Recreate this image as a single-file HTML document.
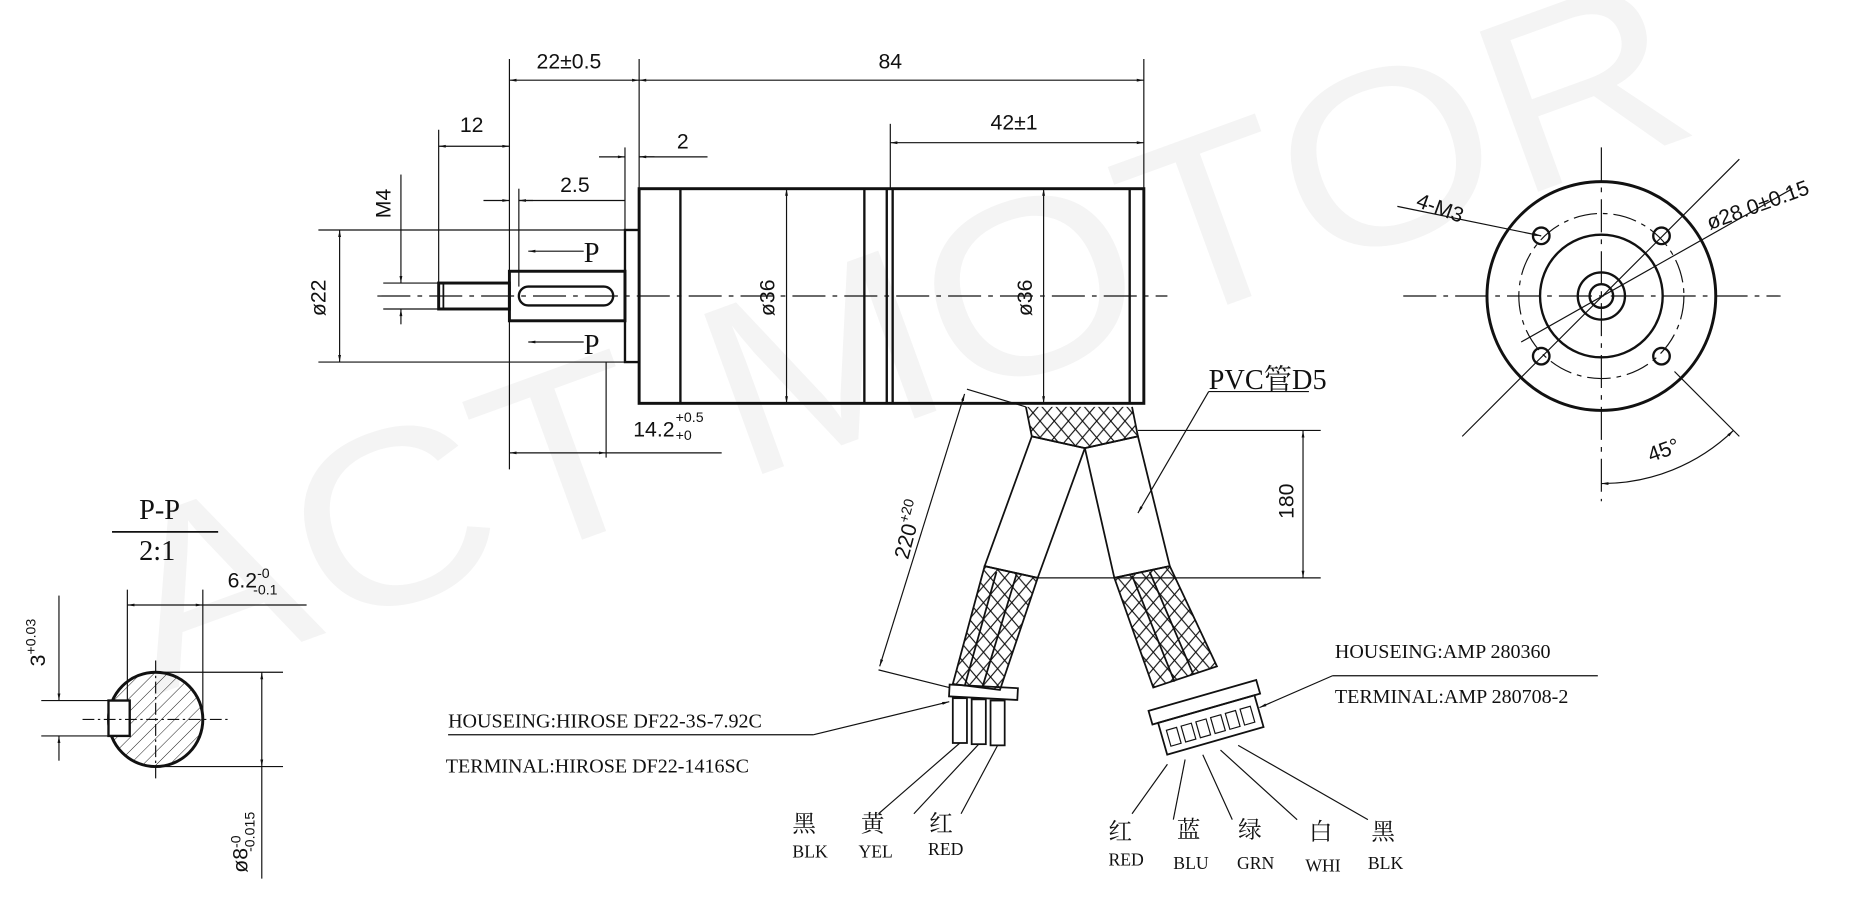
<!DOCTYPE html>
<html><head><meta charset="utf-8"><style>
html,body{margin:0;padding:0;background:#fff;overflow:hidden}
svg{display:block}
text{font-family:"Liberation Sans","Noto Sans CJK SC",sans-serif;fill:#111}
.s{font-family:"Liberation Serif","Noto Serif CJK SC",serif}
</style></head><body>
<svg width="1849" height="914" viewBox="0 0 1568 775" preserveAspectRatio="none" xmlns="http://www.w3.org/2000/svg">
<defs>
<marker id="a" viewBox="0 0 10 10" refX="10" refY="5" markerWidth="10" markerHeight="6" orient="auto-start-reverse"><path d="M0,3 L10,5 L0,7 z" fill="#111"/></marker>
<pattern id="h" width="8" height="8" patternUnits="userSpaceOnUse" patternTransform="rotate(45)"><line x1="0" y1="0" x2="0" y2="8" stroke="#111" stroke-width="0.8"/></pattern>
<pattern id="x" width="12" height="14" patternUnits="userSpaceOnUse"><path d="M0,0 L12,14 M12,0 L0,14" stroke="#111" stroke-width="1"/></pattern>
</defs>
<text x="130" y="590" transform="rotate(-20 130 590)" font-size="210" textLength="1400" lengthAdjust="spacingAndGlyphs" style="fill:#f4f4f4">ACT MOTOR</text>

<g stroke="#111" fill="none">
<line x1="320" y1="251" x2="990" y2="251" stroke-dasharray="28 6 4 6" stroke-width="1"/>
<rect x="542" y="160" width="428" height="182" stroke-width="2.5"/>
<line x1="577" y1="160" x2="577" y2="342" stroke-width="2"/>
<line x1="733" y1="160" x2="733" y2="342" stroke-width="2"/>
<line x1="752" y1="160" x2="752" y2="342" stroke-width="2"/>
<line x1="757" y1="160" x2="757" y2="342" stroke-width="2"/>
<line x1="958" y1="160" x2="958" y2="342" stroke-width="2"/>
<rect x="530" y="195" width="12" height="112" stroke-width="2"/>
<rect x="432" y="230" width="98" height="42" stroke-width="2.5"/>
<rect x="440" y="243" width="80" height="16" rx="8" stroke-width="2"/>
<rect x="372" y="240" width="60" height="22" stroke-width="2.5"/>
<line x1="376" y1="240" x2="376" y2="262" stroke-width="1.5"/>
<g stroke-width="1">
<line x1="432" y1="50" x2="432" y2="230"/><line x1="542" y1="50" x2="542" y2="160"/><line x1="970" y1="50" x2="970" y2="160"/>
<line x1="432" y1="68" x2="542" y2="68" marker-start="url(#a)" marker-end="url(#a)"/>
<line x1="542" y1="68" x2="970" y2="68" marker-start="url(#a)" marker-end="url(#a)"/>
<line x1="372" y1="110" x2="372" y2="240"/>
<line x1="372" y1="124" x2="432" y2="124" marker-start="url(#a)" marker-end="url(#a)"/>
<line x1="530" y1="125" x2="530" y2="195"/>
<line x1="508" y1="133" x2="530" y2="133" marker-end="url(#a)"/><line x1="542" y1="133" x2="600" y2="133"/><line x1="542" y1="133" x2="555" y2="133" marker-start="url(#a)"/>
<line x1="440" y1="160" x2="440" y2="243"/>
<line x1="410" y1="170" x2="432" y2="170" marker-end="url(#a)"/><line x1="440" y1="170" x2="530" y2="170"/><line x1="440" y1="170" x2="452" y2="170" marker-start="url(#a)"/>
<line x1="755" y1="105" x2="755" y2="160"/>
<line x1="755" y1="121" x2="970" y2="121" marker-start="url(#a)" marker-end="url(#a)"/>
<line x1="270" y1="195" x2="530" y2="195"/><line x1="270" y1="307" x2="530" y2="307"/>
<line x1="288" y1="195" x2="288" y2="307" marker-start="url(#a)" marker-end="url(#a)"/>
<line x1="325" y1="240" x2="372" y2="240"/><line x1="325" y1="262" x2="372" y2="262"/>
<line x1="340" y1="148" x2="340" y2="240" marker-end="url(#a)"/><line x1="340" y1="262" x2="340" y2="275" marker-start="url(#a)"/>
<line x1="667" y1="160" x2="667" y2="342" marker-start="url(#a)" marker-end="url(#a)"/>
<line x1="885" y1="160" x2="885" y2="342" marker-start="url(#a)" marker-end="url(#a)"/>
<line x1="432" y1="272" x2="432" y2="398"/><line x1="514" y1="307" x2="514" y2="388"/>
<line x1="432" y1="384" x2="514" y2="384" marker-start="url(#a)" marker-end="url(#a)"/><line x1="514" y1="384" x2="612" y2="384"/>
<line x1="495" y1="213" x2="448" y2="213" marker-end="url(#a)"/>
<line x1="495" y1="290" x2="448" y2="290" marker-end="url(#a)"/>
</g>
<path d="M870,345 L875,370 L920,380 L965,370 L960,345" stroke-width="1.5" fill="url(#x)"/>
<path d="M875,370 L920,380 L880,490 L835,480 Z" stroke-width="1.5"/>
<path d="M920,380 L965,370 L992,480 L945,490 Z" stroke-width="1.5"/>
<path d="M835,480 L880,490 L848,585 L808,580 Z" stroke-width="1.5" fill="url(#x)"/>
<path d="M945,490 L992,480 L1032,565 L978,583 Z" stroke-width="1.5" fill="url(#x)"/>
<line x1="845" y1="485" x2="818" y2="582" stroke-width="1.5"/><line x1="862" y1="487" x2="833" y2="583" stroke-width="1.5"/>
<line x1="960" y1="488" x2="996" y2="578" stroke-width="1.5"/><line x1="975" y1="485" x2="1012" y2="572" stroke-width="1.5"/>
<rect x="805" y="582" width="58" height="10" transform="rotate(3 834 587)" stroke-width="1.5"/>
<rect x="808" y="592" width="12" height="38" stroke-width="1.5"/><rect x="824" y="593" width="12" height="38" stroke-width="1.5"/><rect x="840" y="594" width="12" height="38" stroke-width="1.5"/>
<g transform="rotate(-16 1020 600)">
<rect x="975" y="590" width="95" height="12" stroke-width="1.5"/>
<rect x="980" y="602" width="85" height="28" stroke-width="1.5"/>
<rect x="985" y="610" width="9" height="14"/><rect x="998" y="610" width="9" height="14"/><rect x="1011" y="610" width="9" height="14"/><rect x="1024" y="610" width="9" height="14"/><rect x="1037" y="610" width="9" height="14"/><rect x="1050" y="610" width="9" height="14"/>
</g>
<g stroke-width="1">
<line x1="965" y1="365" x2="1120" y2="365"/><line x1="880" y1="490" x2="1120" y2="490"/>
<line x1="1105" y1="365" x2="1105" y2="490" marker-start="url(#a)" marker-end="url(#a)"/>
<line x1="820" y1="330" x2="870" y2="345"/><line x1="745" y1="568" x2="805" y2="583"/>
<line x1="818" y1="334" x2="746" y2="565" marker-start="url(#a)" marker-end="url(#a)"/>
<path d="M1110,332 L1025,332"/><line x1="1025" y1="332" x2="965" y2="435" marker-end="url(#a)"/>
<path d="M380,623 L690,623"/><line x1="690" y1="623" x2="805" y2="595" marker-end="url(#a)"/>
<path d="M1355,573 L1130,573"/><line x1="1130" y1="573" x2="1068" y2="600" marker-end="url(#a)"/>
<line x1="814" y1="630" x2="745" y2="690"/><line x1="830" y1="631" x2="775" y2="690"/><line x1="846" y1="632" x2="815" y2="690"/>
<line x1="990" y1="648" x2="960" y2="690"/><line x1="1005" y1="644" x2="995" y2="695"/><line x1="1020" y1="640" x2="1045" y2="695"/><line x1="1035" y1="636" x2="1100" y2="695"/><line x1="1050" y1="632" x2="1160" y2="695"/>
</g>
<g>
<circle cx="1358" cy="251" r="97" stroke-width="2.5"/>
<circle cx="1358" cy="251" r="70" stroke-width="1" stroke-dasharray="20 5 4 5"/>
<circle cx="1358" cy="251" r="52" stroke-width="2"/>
<circle cx="1358" cy="251" r="20" stroke-width="2"/>
<circle cx="1358" cy="251" r="10" stroke-width="2"/>
<circle cx="1307" cy="200" r="7" stroke-width="2"/><circle cx="1409" cy="200" r="7" stroke-width="2"/><circle cx="1307" cy="302" r="7" stroke-width="2"/><circle cx="1409" cy="302" r="7" stroke-width="2"/>
<g stroke-width="1">
<line x1="1190" y1="251" x2="1510" y2="251" stroke-dasharray="28 6 4 6"/>
<line x1="1358" y1="125" x2="1358" y2="425" stroke-dasharray="28 6 4 6"/>
<line x1="1240" y1="370" x2="1475" y2="135"/><line x1="1475" y1="370" x2="1420" y2="315"/>
<line x1="1185" y1="175" x2="1307" y2="200" marker-end="url(#a)"/>
<line x1="1290" y1="290" x2="1520" y2="160"/>
<path d="M1358,410 A160,160 0 0 0 1470,365" marker-start="url(#a)" marker-end="url(#a)"/>
</g>
</g>
<line x1="95" y1="451" x2="185" y2="451" stroke-width="1.5"/>
<circle cx="132" cy="610" r="40" stroke-width="2.5" fill="url(#h)"/>
<rect x="92" y="594" width="18" height="30" fill="#fff" stroke-width="2"/>
<g stroke-width="1">
<line x1="108" y1="500" x2="108" y2="594"/><line x1="172" y1="500" x2="172" y2="610"/>
<line x1="108" y1="513" x2="172" y2="513" marker-start="url(#a)" marker-end="url(#a)"/><line x1="172" y1="513" x2="260" y2="513"/>
<line x1="35" y1="594" x2="92" y2="594"/><line x1="35" y1="624" x2="92" y2="624"/>
<line x1="50" y1="505" x2="50" y2="594" marker-end="url(#a)"/><line x1="50" y1="624" x2="50" y2="645" marker-start="url(#a)"/>
<line x1="132" y1="570" x2="240" y2="570"/><line x1="132" y1="650" x2="240" y2="650"/>
<line x1="222" y1="570" x2="222" y2="650" marker-start="url(#a)" marker-end="url(#a)"/><line x1="222" y1="650" x2="222" y2="745"/>
<line x1="70" y1="610" x2="195" y2="610" stroke-dasharray="10 3 2 3"/>
<line x1="132" y1="560" x2="132" y2="660" stroke-dasharray="10 3 2 3"/>
</g>
</g>

<g font-size="18">
<text x="455" y="58">22±0.5</text>
<text x="745" y="58">84</text>
<text x="390" y="112">12</text>
<text x="574" y="126">2</text>
<text x="475" y="163">2.5</text>
<text x="840" y="110">42±1</text>
<text x="276" y="268" transform="rotate(-90 276 268)">ø22</text>
<text x="331" y="185" transform="rotate(-90 331 185)">M4</text>
<text x="657" y="268" transform="rotate(-90 657 268)">ø36</text>
<text x="875" y="268" transform="rotate(-90 875 268)">ø36</text>
<text x="537" y="370">14.2</text><text x="573" y="358" font-size="12">+0.5</text><text x="573" y="373" font-size="12">+0</text>
<text x="1097" y="440" transform="rotate(-90 1097 440)">180</text>
<text x="770" y="475" transform="rotate(-75 770 475)">220<tspan font-size="12" dy="-8">+20</tspan></text>
<text x="1200" y="175" transform="rotate(20 1200 175)">4-M3</text>
<text x="1450" y="195" transform="rotate(-20 1450 195)">ø28.0±0.15</text>
<text x="1400" y="392" transform="rotate(-20 1400 392)">45°</text>
<text x="193" y="498">6.2<tspan font-size="12" dy="-8">-0</tspan><tspan font-size="12" dx="-14" dy="14">-0.1</tspan></text>
<text x="38" y="565" transform="rotate(-90 38 565)">3<tspan font-size="12" dy="-8">+0.03</tspan></text>
<text x="210" y="740" transform="rotate(-90 210 740)">ø8<tspan font-size="12" dy="-6">-0</tspan><tspan font-size="12" dx="-14" dy="12">-0.015</tspan></text>
</g>
<g>
<text x="495" y="222" font-size="24" class="s">P</text>
<text x="495" y="300" font-size="24" class="s">P</text>
<text x="118" y="440" font-size="24" class="s">P-P</text>
<text x="118" y="475" font-size="24" class="s">2:1</text>
<text x="1025" y="330" font-size="24" class="s">PVC管D5</text>
<text x="380" y="617" font-size="17" class="s">HOUSEING:HIROSE DF22-3S-7.92C</text>
<text x="378" y="655" font-size="17" class="s">TERMINAL:HIROSE DF22-1416SC</text>
<text x="1132" y="558" font-size="17" class="s">HOUSEING:AMP 280360</text>
<text x="1132" y="596" font-size="17" class="s">TERMINAL:AMP 280708-2</text>
<g font-size="20"><text x="672" y="705" class="s">黑</text><text x="730" y="705" class="s">黄</text><text x="788" y="705" class="s">红</text>
<text x="940" y="712" class="s">红</text><text x="998" y="710" class="s">蓝</text><text x="1050" y="710" class="s">绿</text><text x="1110" y="712" class="s">白</text><text x="1163" y="712" class="s">黑</text></g>
<g font-size="15"><text x="672" y="727" class="s">BLK</text><text x="728" y="727" class="s">YEL</text><text x="787" y="725" class="s">RED</text>
<text x="940" y="734" class="s">RED</text><text x="995" y="737" class="s">BLU</text><text x="1049" y="737" class="s">GRN</text><text x="1107" y="739" class="s">WHI</text><text x="1160" y="737" class="s">BLK</text></g>
</g>
</svg>
</body></html>
